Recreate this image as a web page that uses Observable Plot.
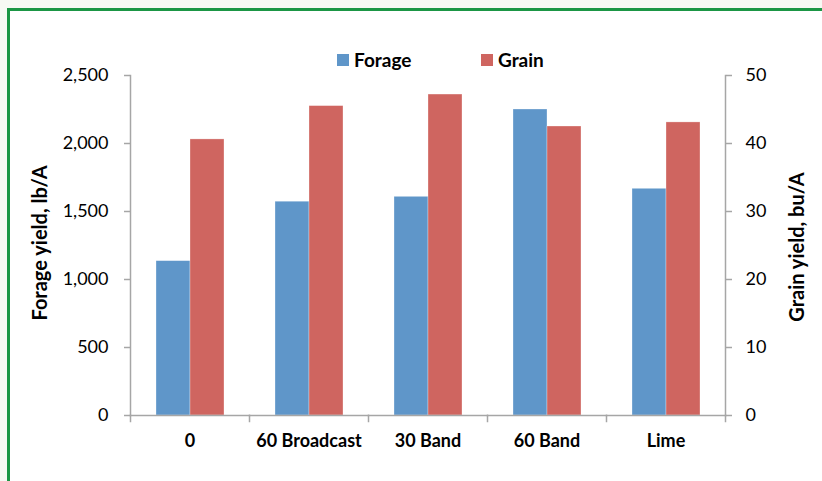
<!DOCTYPE html>
<html>
<head>
<meta charset="utf-8">
<script src="https://cdn.jsdelivr.net/npm/d3@7"></script>
<script src="https://cdn.jsdelivr.net/npm/@observablehq/plot@0.6"></script>
<style>
  html, body { margin: 0; padding: 0; background: #f7f9f4; }
  #wrap { position: relative; width: 822px; height: 481px; overflow: hidden; font-family: Lato, "Open Sans", sans-serif; }
  #panel { position: absolute; left: 7px; top: 8px; width: 900px; height: 600px; border: 3px solid #1b9645; background: #ffffff; }
  #chart { position: absolute; left: 0; top: 0; }
  .ttl { position: absolute; font-weight: bold; font-size: 20px; color: #000; white-space: nowrap; transform: translate(-50%, -50%) rotate(-90deg); }
  .leg { position: absolute; display: flex; align-items: center; font-weight: bold; font-size: 19px; color: #000; }
  .sw { width: 12px; height: 12px; margin-right: 5px; }
</style>
</head>
<body>
<div id="wrap">
  <div id="panel"></div>
  <div id="chart"></div>
  <div class="leg" style="left:337px; top:48px;"><span class="sw" style="background:#5f96c9"></span>Forage</div>
  <div class="leg" style="left:481px; top:48px;"><span class="sw" style="background:#cf6560"></span>Grain</div>
  <div class="ttl" style="left:39px; top:243px;">Forage yield, lb/A</div>
  <div class="ttl" style="left:796px; top:247px;">Grain yield, bu/A</div>
</div>
<script>
// ---- data ----
const categories = ["0", "60 Broadcast", "30 Band", "60 Band", "Lime"];
const seriesNames = ["Forage", "Grain"];
const forageValues = [1135, 1572, 1608, 2250, 1667];   // lb/A (left axis)
const grainValues = [40.6, 45.5, 47.2, 42.5, 43.1];    // bu/A (right axis)
const leftTicks = [0, 500, 1000, 1500, 2000, 2500];
const rightTicks = [0, 10, 20, 30, 40, 50];

// the right axis maps onto the left axis scale
const ratio = leftTicks[leftTicks.length - 1] / rightTicks[rightTicks.length - 1];

const rows = [];
categories.forEach((c, i) => {
  rows.push({category: c, series: "Forage", value: forageValues[i], plotted: forageValues[i]});
  rows.push({category: c, series: "Grain", value: grainValues[i], plotted: grainValues[i] * ratio});
});

const gray = "#a6a6a6";

const chart = Plot.plot({
  width: 822,
  height: 481,
  marginLeft: 130,
  marginRight: 97,
  marginTop: 75,
  marginBottom: 66,
  style: {background: "transparent", fontFamily: "Lato, 'Open Sans', sans-serif", color: "#000"},
  fx: {domain: categories, padding: 0, label: null},
  x: {domain: seriesNames, paddingInner: 0, paddingOuter: 0.75, axis: null},
  y: {domain: [leftTicks[0], leftTicks[leftTicks.length - 1]], axis: null},
  color: {domain: seriesNames, range: ["#5f96c9", "#cf6560"]},
  marks: [
    Plot.barY(rows, {fx: "category", x: "series", y: "plotted", fill: "series", stroke: "#ffffff", strokeOpacity: 0.5, strokeWidth: 0.6}),
    // axis lines
    Plot.frame({anchor: "left", facetAnchor: "left", stroke: gray, strokeWidth: 1.5}),
    Plot.frame({anchor: "right", facetAnchor: "right", stroke: gray, strokeWidth: 1.5}),
    Plot.frame({anchor: "bottom", stroke: gray, strokeWidth: 1.5}),
    // category boundary ticks
    Plot.frame({anchor: "left", stroke: gray, strokeWidth: 1.5, insetTop: 340, insetBottom: -6}),
    Plot.frame({anchor: "right", facetAnchor: "right", stroke: gray, strokeWidth: 1.5, insetTop: 340, insetBottom: -6}),
    // left axis
    Plot.axisY(leftTicks, {anchor: "left", tickSize: 6, tickPadding: 16, tickFormat: d3.format(","), fontSize: 18, stroke: gray, strokeWidth: 1.5, label: null, facetAnchor: "left"}),
    // right axis
    Plot.axisY(rightTicks.map(t => t * ratio), {anchor: "right", tickSize: 6, tickPadding: 14, tickFormat: d => String(Math.round(d / ratio)), fontSize: 18, stroke: gray, strokeWidth: 1.5, label: null, facetAnchor: "right"}),
    // category labels
    Plot.axisFx({anchor: "bottom", tickSize: 0, tickPadding: 19, fontSize: 18, fontWeight: "bold", label: null})
  ]
});
document.getElementById("chart").appendChild(chart);
</script>
</body>
</html>
